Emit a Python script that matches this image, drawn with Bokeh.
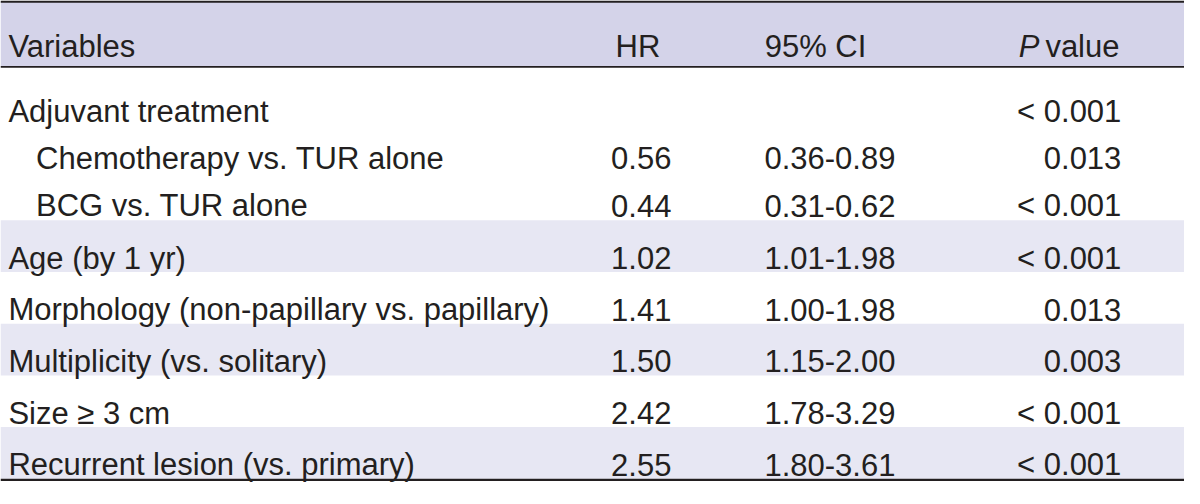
from bokeh.plotting import figure
from bokeh.models import ColumnDataSource, Range1d
from bokeh.core.properties import value
from bokeh.embed import file_html
from bokeh.resources import INLINE

# ---- data ----
variables = ["Adjuvant treatment", "Chemotherapy vs. TUR alone", "BCG vs. TUR alone",
             "Age (by 1 yr)", "Morphology (non-papillary vs. papillary)",
             "Multiplicity (vs. solitary)", "Size \u2265 3 cm", "Recurrent lesion (vs. primary)"]
indent = [0, 1, 1, 0, 0, 0, 0, 0]
hr = ["", "0.56", "0.44", "1.02", "1.41", "1.50", "2.42", "2.55"]
ci = ["", "0.36-0.89", "0.31-0.62", "1.01-1.98", "1.00-1.98", "1.15-2.00", "1.78-3.29", "1.80-3.61"]
pval = ["< 0.001", "0.013", "< 0.001", "< 0.001", "0.013", "0.003", "< 0.001", "< 0.001"]
shaded = [False, False, False, True, False, True, False, True]
headers = ["Variables", "HR", "95% CI", "value"]

# ---- layout (reference pixel units) ----
W, H = 1200, 504
FONT = value("Liberation Sans")
FS = "31px"
TXT = "#231f20"
HEAD_BG = "#d4d3e9"
ROW_BG = "#e7e7f3"

group_base = [115, 163, 212]
row_top0, row_h = 227, 53.4
tops, bottoms, baselines = [], [], []
for i in range(len(variables)):
    if i < 3:
        baselines.append(group_base[i])
        tops.append(None)
        bottoms.append(None)
    else:
        k = i - 3
        t = row_top0 + row_h * k
        tops.append(t)
        bottoms.append(t + row_h)
        baselines.append(t + 39)

p = figure(width=1184, height=488, output_backend="svg", toolbar_location=None,
           x_range=Range1d(0, W), y_range=Range1d(H, 0), min_border=0,
           background_fill_color="white", border_fill_color="white")
p.axis.visible = False
p.grid.visible = False
p.outline_line_color = None

# header band
p.quad(left=[0], right=[W], top=[1.5], bottom=[68], fill_color=HEAD_BG, line_color=None)
# shaded rows
st = [tops[i] for i in range(len(variables)) if shaded[i]]
sb = [bottoms[i] for i in range(len(variables)) if shaded[i]]
p.quad(left=[0] * len(st), right=[W] * len(st), top=st, bottom=sb, fill_color=ROW_BG, line_color=None)

# rules
rule_bottom = row_top0 + row_h * 5 + 1
p.segment(x0=[0], x1=[W], y0=[1.2], y1=[1.2], line_color=TXT, line_width=2.2)
p.segment(x0=[0], x1=[W], y0=[68.5], y1=[68.5], line_color=TXT, line_width=1.6)
p.segment(x0=[0], x1=[W], y0=[rule_bottom], y1=[rule_bottom], line_color=TXT, line_width=2.2)

# header texts
hb = 47
p.text(x=[8], y=[hb], text=[headers[0]], text_font=FONT, text_font_size=FS, text_color=TXT,
       text_align="left", text_baseline="alphabetic")
p.text(x=[646, 826], y=[hb, hb], text=headers[1:3], text_font=FONT, text_font_size=FS,
       text_color=TXT, text_align="center", text_baseline="alphabetic")
p.text(x=[1053], y=[hb], text=["P"], text_font=FONT, text_font_size=FS, text_color=TXT,
       text_font_style="italic", text_align="right", text_baseline="alphabetic")
p.text(x=[1059], y=[hb], text=[headers[3]], text_font=FONT, text_font_size=FS, text_color=TXT,
       text_align="left", text_baseline="alphabetic")

# body
src = ColumnDataSource(dict(
    xv=[8 + 28 * d for d in indent], y=baselines, var=variables,
    hr=hr, ci=ci, pv=pval,
))
p.text(x="xv", y="y", text="var", source=src, text_font=FONT, text_font_size=FS,
       text_color=TXT, text_align="left", text_baseline="alphabetic")
p.text(x=680, y="y", text="hr", source=src, text_font=FONT, text_font_size=FS,
       text_color=TXT, text_align="right", text_baseline="alphabetic")
p.text(x=907, y="y", text="ci", source=src, text_font=FONT, text_font_size=FS,
       text_color=TXT, text_align="right", text_baseline="alphabetic")
p.text(x=1136, y="y", text="pv", source=src, text_font=FONT, text_font_size=FS,
       text_color=TXT, text_align="right", text_baseline="alphabetic")

open("out.html", "w").write(file_html(p, INLINE))
